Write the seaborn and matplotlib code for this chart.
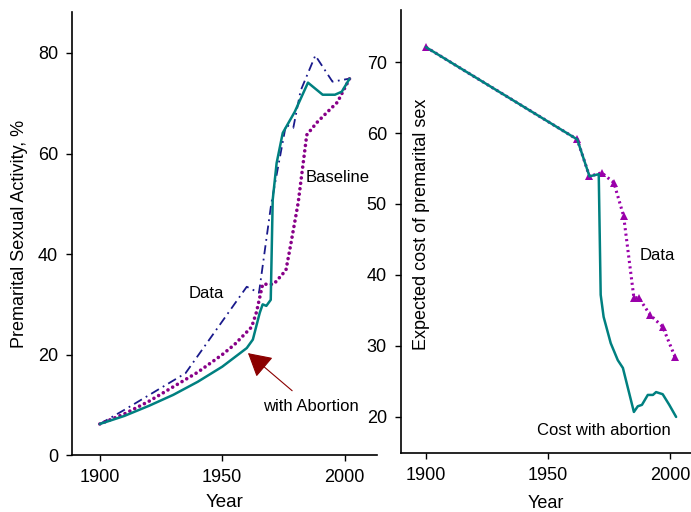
import numpy as np
import pandas as pd
import seaborn as sns
import matplotlib.pyplot as plt

# left panel: premarital sexual activity, %
data_year = [1900, 1910, 1935, 1960, 1965, 1970, 1976, 1979, 1982, 1988, 1995, 2002]
data_pct = [6.2, 9.0, 16.3, 33.5, 32.3, 50.0, 65.7, 65.1, 72.5, 79.5, 74.3, 74.9]

base_year = [1900, 1910, 1920, 1930, 1940, 1950, 1955, 1962, 1964, 1966.5, 1971, 1976, 1978, 1981, 1984.5, 1988.5, 1993, 1997, 2002]
base_pct = [6.2, 8.2, 10.7, 13.6, 16.5, 20.0, 22.0, 25.5, 28.5, 34.0, 34.0, 36.8, 42.0, 50.2, 63.7, 66.1, 68.3, 70.2, 74.9]

abort_year = [1900, 1910, 1920, 1930, 1940, 1950, 1960, 1962.5, 1965.3, 1966.5, 1968, 1969.8, 1970.6, 1972.2, 1974.7, 1979.6, 1985, 1991, 1996, 1998.8, 2002]
abort_pct = [6.2, 7.8, 9.8, 12.0, 14.6, 17.6, 21.3, 23.0, 28.3, 30.0, 29.7, 30.9, 50.8, 58.1, 64.1, 68.3, 74.1, 71.7, 71.7, 72.3, 74.9]

# right panel: expected cost of premarital sex
cost_year = [1900, 1962, 1967, 1972, 1977, 1981, 1985.2, 1987.2, 1991.8, 1997, 2002]
cost_data = [72.1, 59.1, 53.9, 54.4, 53.0, 48.3, 36.8, 36.8, 34.4, 32.7, 28.5]

cab_year = [1900, 1962, 1967, 1970.8, 1971.6, 1972.8, 1975.7, 1978.6, 1980.7, 1985.2, 1986.8, 1988.5, 1990.9, 1993, 1994.3, 1997, 1999.7, 2002.5]
cab_cost = [72.1, 59.1, 53.9, 54.2, 37.2, 34.1, 30.4, 28.0, 26.9, 20.7, 21.5, 21.7, 23.1, 23.1, 23.5, 23.2, 21.7, 20.0]

sns.set_style("ticks")
plt.rcParams['font.family'] = ['Liberation Sans', 'DejaVu Sans']
plt.rcParams['text.color'] = 'black'
plt.rcParams['axes.labelcolor'] = 'black'

fig = plt.figure(figsize=(6.91, 5.12), dpi=100)
ax1 = fig.add_axes([0.104, 0.111, 0.442, 0.866])
ax2 = fig.add_axes([0.580, 0.115, 0.420, 0.865])

teal = "#008080"
purple = "#880088"

sns.lineplot(x=data_year, y=data_pct, ax=ax1, color="#1a1a8c", lw=1.3,
             linestyle=(0, (5, 2.5, 1, 2.5)))
sns.lineplot(x=base_year, y=base_pct, ax=ax1, color=purple, lw=2.6,
             linestyle=(0, (0.01, 1.5)), dash_capstyle="round")
sns.lineplot(x=abort_year, y=abort_pct, ax=ax1, color=teal, lw=1.8)

ax1.set_xlim(1888.6, 2013.3)
ax1.set_ylim(0, 88.2)
ax1.set_xticks([1900, 1950, 2000])
ax1.set_yticks([0, 20, 40, 60, 80])
ax1.set_xlabel("Year", fontsize=13.5)
ax1.set_ylabel("Premarital Sexual Activity, %", fontsize=13)
ax1.yaxis.set_label_coords(-0.144, 0.5)
ax1.xaxis.set_label_coords(0.5, -0.088)
ax1.text(1943.3, 32.2, "Data", fontsize=12, ha="center", va="center")
ax1.text(1997, 55.2, "Baseline", fontsize=12, ha="center", va="center")
ax1.annotate("with Abortion", xy=(1960.5, 20.3), xytext=(1986.3, 9.6),
             fontsize=12, ha="center", va="center",
             arrowprops=dict(arrowstyle="-|>,head_length=0.8,head_width=0.45",
                             color="#8b0000", lw=0.8, mutation_scale=18,
                             shrinkA=6, shrinkB=0))

sns.lineplot(x=cost_year, y=cost_data, ax=ax2, color="#9a00aa", lw=2.2,
             linestyle=(0, (0.7, 1.1)), marker="^", markersize=5.5,
             markeredgewidth=0)
sns.lineplot(x=cab_year, y=cab_cost, ax=ax2, color=teal, lw=1.8)

ax2.set_xlim(1889.7, 2008.6)
ax2.set_ylim(14.9, 77.3)
ax2.set_xticks([1900, 1950, 2000])
ax2.set_yticks([20, 30, 40, 50, 60, 70])
ax2.set_xlabel("Year", fontsize=13)
ax2.set_ylabel("Expected cost of premarital sex", fontsize=13)
ax2.yaxis.set_label_coords(0.10, 0.517)
ax2.xaxis.set_label_coords(0.5, -0.095)
ax2.text(1995, 42.8, "Data", fontsize=12, ha="center", va="center")
ax2.text(1973, 18.1, "Cost with abortion", fontsize=12, ha="center", va="center")

for ax in (ax1, ax2):
    sns.despine(ax=ax)
    ax.tick_params(direction="out", length=4, width=1, labelsize=13, pad=6, colors="black")
    for s in ("left", "bottom"):
        ax.spines[s].set_color("black")
        ax.spines[s].set_linewidth(1.2)

fig.savefig("out.png", dpi=100)
